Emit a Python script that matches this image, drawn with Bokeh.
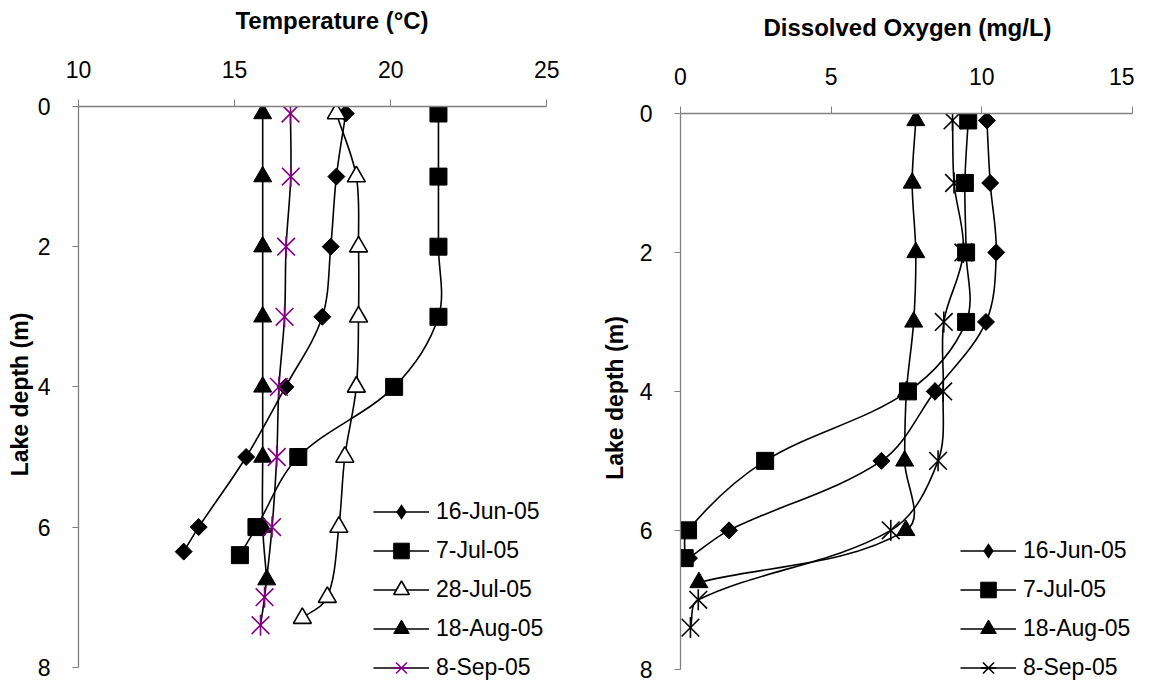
import math
import numpy as np
from bokeh.plotting import figure
from bokeh.models import Range1d, FixedTicker, Legend, LegendItem, ColumnDataSource, Spacer
from bokeh.layouts import row, column
from bokeh.embed import file_html
from bokeh.resources import INLINE

FONT = "Liberation Sans"

# ---------------- data: temperature profiles ----------------
temp_labels = ["16-Jun-05", "7-Jul-05", "28-Jul-05", "18-Aug-05", "8-Sep-05"]
t_jun16_depth = [0.1, 1, 2, 3, 4, 5, 6, 6.35]
t_jun16 = [18.56, 18.26, 18.08, 17.81, 16.63, 15.37, 13.85, 13.37]
t_jul7_depth = [0.1, 1, 2, 3, 4, 5, 6, 6.4]
t_jul7 = [21.53, 21.53, 21.53, 21.53, 20.11, 17.04, 15.70, 15.17]
t_jul28_depth = [0.1, 1, 2, 3, 4, 5, 6, 7, 7.3]
t_jul28 = [18.26, 18.90, 18.97, 18.97, 18.90, 18.53, 18.34, 17.97, 17.17]
t_aug18_depth = [0.1, 1, 2, 3, 4, 5, 6, 6.75]
t_aug18 = [15.90, 15.90, 15.90, 15.90, 15.90, 15.90, 15.90, 16.03]
t_sep8_depth = [0.1, 1, 2, 3, 4, 5, 6, 7, 7.4]
t_sep8 = [16.79, 16.80, 16.65, 16.60, 16.42, 16.35, 16.20, 15.96, 15.83]

# ---------------- data: dissolved oxygen profiles ----------------
do_labels = ["16-Jun-05", "7-Jul-05", "18-Aug-05", "8-Sep-05"]
do_jun16_depth = [0.1, 1, 2, 3, 4, 5, 6, 6.4]
do_jun16 = [10.17, 10.28, 10.48, 10.14, 8.44, 6.67, 1.61, 0.28]
do_jul7_depth = [0.1, 1, 2, 3, 4, 5, 6, 6.4]
do_jul7 = [9.55, 9.44, 9.48, 9.48, 7.55, 2.81, 0.25, 0.14]
do_aug18_depth = [0.1, 1, 2, 3, 4, 5, 6, 6.75]
do_aug18 = [7.81, 7.69, 7.81, 7.74, 7.50, 7.44, 7.48, 0.61]
do_sep8_depth = [0.1, 1, 2, 3, 4, 5, 6, 7, 7.4]
do_sep8 = [9.03, 9.08, 9.39, 8.74, 8.72, 8.55, 6.98, 0.59, 0.33]

temp_ticks = [10, 15, 20, 25]
do_ticks = [0, 5, 10, 15]
depth_ticks = [0, 2, 4, 6, 8]


def smooth_source(xs, ys, kx, ky):
    """Bezier segments for a 'smoothed line' look; tangents are taken in
    pixel-scaled space (kx, ky = px per unit) and scaled by segment length."""
    n = len(xs)
    X = [x * kx for x in xs]
    Y = [y * ky for y in ys]

    def tangent(i):
        a = max(i - 1, 0)
        b = min(i + 1, n - 1)
        dx, dy = X[b] - X[a], Y[b] - Y[a]
        L = math.hypot(dx, dy) or 1.0
        return dx / L, dy / L

    d = dict(x0=[], y0=[], x1=[], y1=[], cx0=[], cy0=[], cx1=[], cy1=[])
    for i in range(n - 1):
        seg = math.hypot(X[i + 1] - X[i], Y[i + 1] - Y[i])
        t0 = tangent(i)
        t1 = tangent(i + 1)
        c = seg / 3.0
        d["x0"].append(xs[i]); d["y0"].append(ys[i])
        d["x1"].append(xs[i + 1]); d["y1"].append(ys[i + 1])
        d["cx0"].append((X[i] + t0[0] * c) / kx)
        d["cy0"].append((Y[i] + t0[1] * c) / ky)
        d["cx1"].append((X[i + 1] - t1[0] * c) / kx)
        d["cy1"].append((Y[i + 1] - t1[1] * c) / ky)
    return ColumnDataSource(d)


def make_fig(xr, xbounds, xticks, title, width, height, b_left, b_right, b_top, ymax,
             ytick_standoff, ylab_standoff):
    p = figure(
        width=width, height=height,
        min_border_left=b_left, min_border_top=b_top,
        min_border_right=b_right, min_border_bottom=0,
        x_range=Range1d(*xr), y_range=Range1d(ymax, 0),
        x_axis_location="above", output_backend="svg", toolbar_location=None,
    )
    p.frame_align = False
    p.outline_line_color = None
    p.xgrid.visible = False
    p.ygrid.visible = False
    p.background_fill_color = "white"
    p.border_fill_color = "white"

    xa = p.xaxis[0]
    xa.ticker = FixedTicker(ticks=xticks)
    xa.bounds = xbounds
    xa.axis_label = title
    xa.axis_label_text_font = FONT
    xa.axis_label_text_font_style = "bold"
    xa.axis_label_text_font_size = "24px"
    xa.axis_label_text_color = "black"
    xa.axis_label_standoff = 24
    xa.major_label_text_font = FONT
    xa.major_label_text_font_size = "23px"
    xa.major_label_text_color = "black"
    xa.major_label_standoff = 22
    xa.major_tick_out = 7
    xa.major_tick_in = 0
    xa.minor_tick_out = 0
    xa.minor_tick_in = 0
    xa.axis_line_color = "#808080"
    xa.major_tick_line_color = "#808080"
    xa.axis_line_width = 1.3

    ya = p.yaxis[0]
    ya.ticker = FixedTicker(ticks=depth_ticks)
    ya.bounds = (0, 8)
    ya.axis_label = "Lake depth (m)"
    ya.axis_label_text_font = FONT
    ya.axis_label_text_font_style = "bold"
    ya.axis_label_text_font_size = "23px"
    ya.axis_label_text_color = "black"
    ya.axis_label_standoff = ylab_standoff
    ya.major_label_text_font = FONT
    ya.major_label_text_font_size = "23px"
    ya.major_label_text_color = "black"
    ya.major_label_standoff = ytick_standoff
    ya.major_tick_out = 6
    ya.major_tick_in = 0
    ya.minor_tick_out = 0
    ya.minor_tick_in = 0
    ya.axis_line_color = "#808080"
    ya.major_tick_line_color = "#808080"
    ya.axis_line_width = 1.3
    return p


def add_series(p, xs, ys, kind, kx, ky, color="black"):
    lr = p.bezier(x0="x0", y0="y0", x1="x1", y1="y1", cx0="cx0", cy0="cy0",
                  cx1="cx1", cy1="cy1", source=smooth_source(xs, ys, kx, ky),
                  line_color="black", line_width=1.6)
    rs = [lr]
    if kind == "diamond":
        p.scatter(xs, ys, marker="square", angle=np.pi / 4, size=12,
                  fill_color="black", line_color="black")
        # zero-size twin: invisible in the plot, drawn as a diamond in the legend
        rs.append(p.scatter(xs, ys, marker="diamond", size=0,
                            fill_color="black", line_color=None))
    elif kind == "square":
        rs.append(p.scatter(xs, ys, marker="square", size=17,
                            fill_color="black", line_color="black"))
    elif kind == "open_triangle":
        rs.append(p.scatter(xs, ys, marker="triangle", size=18,
                            fill_color="white", line_color="black", line_width=1.6))
    elif kind == "triangle":
        rs.append(p.scatter(xs, ys, marker="triangle", size=18,
                            fill_color="black", line_color="black"))
    elif kind == "star":
        rs.append(p.scatter(xs, ys, marker="x", size=25, line_color=color, line_width=1.6))
        rs.append(p.scatter(xs, ys, marker="dash", angle=np.pi / 2, size=21,
                            line_color=color, line_width=1.6))
    return rs


def add_legend(p, items, loc):
    leg = Legend(items=[LegendItem(label=l, renderers=r) for l, r in items],
                 location=loc, orientation="vertical",
                 label_text_font=FONT, label_text_font_size="23px",
                 label_text_color="black",
                 glyph_width=56, glyph_height=39, label_height=39,
                 spacing=0, padding=0, margin=0, label_standoff=7,
                 border_line_color=None, background_fill_alpha=0)
    p.add_layout(leg)


# ---------------- left: temperature ----------------
KX1, KY1 = 31.2, 70.1
p1 = make_fig((10, 26.24), (10, 25), temp_ticks, "Temperature (\u00b0C)",
              592, 679, 70, 10, 98, 8.217, 22, 2)
r_a = add_series(p1, t_jun16, t_jun16_depth, "diamond", KX1, KY1)
r_b = add_series(p1, t_jul7, t_jul7_depth, "square", KX1, KY1)
r_c = add_series(p1, t_jul28, t_jul28_depth, "open_triangle", KX1, KY1)
r_d = add_series(p1, t_aug18, t_aug18_depth, "triangle", KX1, KY1)
r_e = add_series(p1, t_sep8, t_sep8_depth, "star", KX1, KY1, color="#800080")
add_legend(p1, list(zip(temp_labels, [r_a, r_b, r_c, r_d, r_e])), (295, -5))

# ---------------- right: dissolved oxygen ----------------
KX2, KY2 = 30.0, 69.6
p2 = make_fig((0, 15.07), (0, 15), do_ticks, "Dissolved Oxygen (mg/L)",
              536, 673, 82, 0, 104, 8.19, 22, 9)
s_a = add_series(p2, do_jun16, do_jun16_depth, "diamond", KX2, KY2)
s_b = add_series(p2, do_jul7, do_jul7_depth, "square", KX2, KY2)
s_c = add_series(p2, do_aug18, do_aug18_depth, "triangle", KX2, KY2)
s_d = add_series(p2, do_sep8, do_sep8_depth, "star", KX2, KY2, color="black")
add_legend(p2, list(zip(do_labels, [s_a, s_b, s_c, s_d])), (280, -5))

layout = row(Spacer(width=3, height=10),
             column(Spacer(width=10, height=3), p1),
             Spacer(width=3, height=10),
             column(Spacer(width=10, height=9), p2))
open("out.html", "w").write(file_html(layout, INLINE))
